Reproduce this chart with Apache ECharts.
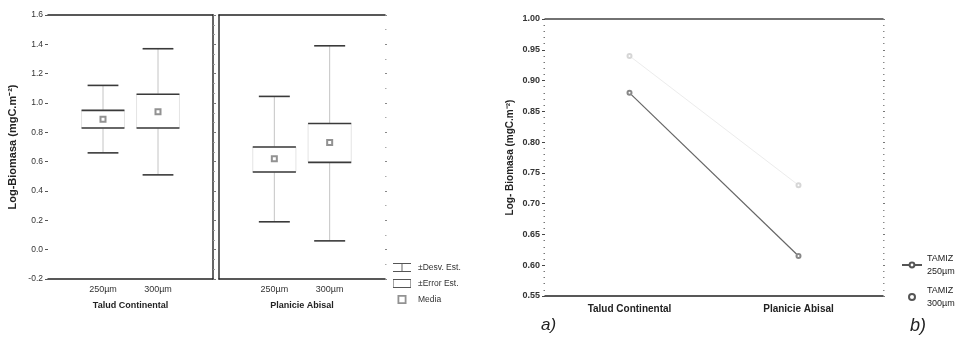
<!DOCTYPE html>
<html>
<head>
<meta charset="utf-8">
<script src="https://cdn.jsdelivr.net/npm/echarts@6/dist/echarts.min.js"></script>
<style>html,body{margin:0;padding:0;background:#fff}#c{width:965px;height:345px}</style>
</head>
<body>
<div id="c"></div>
<script>
// ---- data ----
const sizes = ['250µm', '300µm'];
const sizePos = [1, 2];
const sites = ['Talud Continental', 'Planicie Abisal'];
const yTicksA = ['-0.2','0.0','0.2','0.4','0.6','0.8','1.0','1.2','1.4','1.6'];
// Talud Continental
const taludSdLow  = [0.66, 0.51];
const taludSeLow  = [0.83, 0.83];
const taludMean   = [0.89, 0.94];
const taludSeHigh = [0.95, 1.06];
const taludSdHigh = [1.12, 1.37];
// Planicie Abisal
const planSdLow  = [0.19, 0.06];
const planSeLow  = [0.53, 0.595];
const planMean   = [0.62, 0.73];
const planSeHigh = [0.70, 0.86];
const planSdHigh = [1.045, 1.39];
// panel b (means by sieve)
const tamiz250 = [0.88, 0.615];
const tamiz300 = [0.94, 0.73];

const FONT = 'Liberation Sans, Arial, sans-serif';
const chart = echarts.init(document.getElementById('c'), null, {renderer: 'canvas'});

function whiskerItem(params, api) {
  const x = api.value(0), lo = api.value(1), hi = api.value(2);
  const pLo = api.coord([x, lo]), pHi = api.coord([x, hi]);
  const hw = api.size([0.56, 0])[0] / 2;
  return {type: 'group', children: [
    {type: 'line', shape: {x1: pLo[0], y1: pLo[1], x2: pHi[0], y2: pHi[1]}, style: {stroke: '#c4c4c4', lineWidth: 1}},
    {type: 'line', shape: {x1: pLo[0]-hw, y1: pLo[1], x2: pLo[0]+hw, y2: pLo[1]}, style: {stroke: '#3a3a3a', lineWidth: 1.6}},
    {type: 'line', shape: {x1: pHi[0]-hw, y1: pHi[1], x2: pHi[0]+hw, y2: pHi[1]}, style: {stroke: '#3a3a3a', lineWidth: 1.6}}
  ]};
}
function boxItem(params, api) {
  const x = api.value(0), lo = api.value(1), hi = api.value(2);
  const pLo = api.coord([x, lo]), pHi = api.coord([x, hi]);
  const hw = api.size([0.78, 0])[0] / 2;
  return {type: 'group', children: [
    {type: 'rect', shape: {x: pHi[0]-hw, y: pHi[1], width: 2*hw, height: pLo[1]-pHi[1]}, style: {fill: '#fff', stroke: '#e4e4e4', lineWidth: 1}},
    {type: 'line', shape: {x1: pLo[0]-hw, y1: pLo[1], x2: pLo[0]+hw, y2: pLo[1]}, style: {stroke: '#3a3a3a', lineWidth: 1.6}},
    {type: 'line', shape: {x1: pHi[0]-hw, y1: pHi[1], x2: pHi[0]+hw, y2: pHi[1]}, style: {stroke: '#3a3a3a', lineWidth: 1.6}}
  ]};
}
function zip3(a, b, c) { return a.map((v, i) => [v, b[i], c[i]]); }
function zip2(a, b) { return a.map((v, i) => [v, b[i]]); }

function facetX(gi, name) {
  return [
    {gridIndex: gi, type: 'value', position: 'bottom', min: 0, max: 3, interval: 1,
     axisLine: {show: true, onZero: false, lineStyle: {color: '#222', width: 1.5}}, axisTick: {show: false}, splitLine: {show: false},
     axisLabel: {margin: 6, fontSize: 9, fontFamily: FONT, color: '#333', formatter: v => {const i = sizePos.indexOf(v); return i >= 0 ? sizes[i] : '';}},
     name: name, nameLocation: 'middle', nameGap: 22, nameTextStyle: {fontSize: 9, fontWeight: 'bold', fontFamily: FONT, color: '#222'}},
    {gridIndex: gi, type: 'value', position: 'top', min: 0, max: 3, interval: 1,
     axisLine: {show: true, onZero: false, lineStyle: {color: '#222', width: 1.5}}, axisTick: {show: false}, axisLabel: {show: false}, splitLine: {show: false}}
  ];
}
const yA = {type: 'value', min: -0.2, max: 1.6, interval: 0.2, splitLine: {show: false}};

const option = {
  backgroundColor: '#fff',
  animation: false,
  textStyle: {fontFamily: FONT},
  title: [
    {text: 'a)', left: 536, top: 312, textStyle: {fontSize: 17, fontStyle: 'italic', fontWeight: 'normal', fontFamily: FONT, color: '#222'}},
    {text: 'b)', left: 905, top: 312, textStyle: {fontSize: 18, fontStyle: 'italic', fontWeight: 'normal', fontFamily: FONT, color: '#222'}}
  ],
  grid: [
    {left: 48, top: 15, width: 165, height: 264},
    {left: 219, top: 15, width: 166, height: 264},
    {left: 545, top: 19, width: 338, height: 277}
  ],
  legend: [
    {orient: 'vertical', left: 388, top: 258, itemGap: 7, itemWidth: 22, itemHeight: 9,
     textStyle: {fontSize: 8.5, fontFamily: FONT, color: '#333'},
     data: [
       {name: '±Desv. Est.', icon: 'path://M0,0h20v1.2h-20zM9.5,0h1v10h-1zM0,8.8h20v1.2h-20z', itemStyle: {color: '#555'}},
       {name: '±Error Est.', icon: 'path://M0,0h20v1.2h-20zM0,8.8h20v1.2h-20zM0,0h0.6v10h-0.6zM19.4,0h0.6v10h-0.6z', itemStyle: {color: '#555'}},
       {name: 'Media', icon: 'path://M0,0h6v6h-6zM1.2,1.2v3.6h3.6v-3.6z', itemStyle: {color: '#777'}}
     ]},
    {orient: 'vertical', left: 896, top: 247, itemGap: 6, itemWidth: 20, itemHeight: 6,
     textStyle: {fontSize: 9, fontFamily: FONT, color: '#222', lineHeight: 13},
     data: [
       {name: 'TAMIZ\n250µm', itemStyle: {color: '#555', borderColor: '#555'}, lineStyle: {color: '#555'}},
       {name: 'TAMIZ\n300µm', icon: 'emptyCircle', itemStyle: {color: '#555', borderColor: '#555', borderWidth: 1}}
     ]}
  ],
  xAxis: [
    ...facetX(0, sites[0]),
    ...facetX(1, sites[1]),
    {gridIndex: 2, type: 'category', data: sites, position: 'bottom', boundaryGap: true,
     axisLine: {show: true, onZero: false, lineStyle: {color: '#222', width: 1.5}}, axisTick: {show: false},
     axisLabel: {margin: 8, fontSize: 10, fontWeight: 'bold', fontFamily: FONT, color: '#222'}},
    {gridIndex: 2, type: 'category', data: sites, position: 'top', boundaryGap: true,
     axisLine: {show: true, onZero: false, lineStyle: {color: '#444', width: 1.5}}, axisTick: {show: false}, axisLabel: {show: false}}
  ],
  yAxis: [
    Object.assign({gridIndex: 0, position: 'left', axisLine: {show: false, onZero: false},
     axisTick: {show: true, length: 3, lineStyle: {color: '#555'}},
     axisLabel: {margin: 5, fontSize: 8.5, fontFamily: FONT, color: '#333', formatter: v => yTicksA[Math.round((v + 0.2) / 0.2)] || ''},
     name: 'Log-Biomasa (mgC.m⁻²)', nameLocation: 'middle', nameGap: 30,
     nameTextStyle: {fontSize: 11, fontWeight: 'bold', fontFamily: FONT, color: '#222'}}, yA),
    Object.assign({gridIndex: 0, position: 'right', axisLine: {show: true, onZero: false, lineStyle: {color: '#333', width: 1.5}},
     axisTick: {show: true, length: 3, lineStyle: {color: '#777'}}, minorTick: {show: true, splitNumber: 3, length: 2, lineStyle: {color: '#999'}},
     axisLabel: {show: false}}, yA),
    Object.assign({gridIndex: 1, position: 'left', axisLine: {show: true, onZero: false, lineStyle: {color: '#333', width: 1.5}},
     axisTick: {show: false}, axisLabel: {show: false}}, yA),
    Object.assign({gridIndex: 1, position: 'right', axisLine: {show: false, onZero: false},
     axisTick: {show: true, length: 2, lineStyle: {color: '#888'}}, minorTick: {show: true, splitNumber: 2, length: 1.5, lineStyle: {color: '#aaa'}},
     axisLabel: {show: false}}, yA),
    {gridIndex: 2, type: 'value', position: 'left', min: 0.55, max: 1.0, interval: 0.05, splitLine: {show: false},
     axisLine: {show: false, onZero: false}, axisTick: {show: true, length: 3, lineStyle: {color: '#444'}},
     minorTick: {show: true, splitNumber: 5, length: 1.5, lineStyle: {color: '#777'}},
     axisLabel: {margin: 5, fontSize: 9, fontWeight: 'bold', fontFamily: FONT, color: '#333', formatter: v => v.toFixed(2)},
     name: 'Log- Biomasa (mgC.m⁻²)', nameLocation: 'middle', nameGap: 30,
     nameTextStyle: {fontSize: 10, fontWeight: 'bold', fontFamily: FONT, color: '#222'}},
    {gridIndex: 2, type: 'value', position: 'right', min: 0.55, max: 1.0, interval: 0.05, splitLine: {show: false},
     axisLine: {show: false, onZero: false}, axisTick: {show: true, length: 2, lineStyle: {color: '#777'}},
     minorTick: {show: true, splitNumber: 5, length: 1.5, lineStyle: {color: '#888'}}, axisLabel: {show: false}}
  ],
  series: [
    {name: '±Desv. Est.', type: 'custom', xAxisIndex: 0, yAxisIndex: 0, renderItem: whiskerItem, encode: {x: 0, y: [1, 2]}, data: zip3(sizePos, taludSdLow, taludSdHigh), z: 2},
    {name: '±Error Est.', type: 'custom', xAxisIndex: 0, yAxisIndex: 0, renderItem: boxItem, encode: {x: 0, y: [1, 2]}, data: zip3(sizePos, taludSeLow, taludSeHigh), z: 3},
    {name: 'Media', type: 'scatter', xAxisIndex: 0, yAxisIndex: 0, symbol: 'emptyRect', symbolSize: 5, itemStyle: {color: '#777', borderWidth: 1}, data: zip2(sizePos, taludMean), z: 4},
    {name: '±Desv. Est.', type: 'custom', xAxisIndex: 2, yAxisIndex: 2, renderItem: whiskerItem, encode: {x: 0, y: [1, 2]}, data: zip3(sizePos, planSdLow, planSdHigh), z: 2},
    {name: '±Error Est.', type: 'custom', xAxisIndex: 2, yAxisIndex: 2, renderItem: boxItem, encode: {x: 0, y: [1, 2]}, data: zip3(sizePos, planSeLow, planSeHigh), z: 3},
    {name: 'Media', type: 'scatter', xAxisIndex: 2, yAxisIndex: 2, symbol: 'emptyRect', symbolSize: 5, itemStyle: {color: '#777', borderWidth: 1}, data: zip2(sizePos, planMean), z: 4},
    {name: 'TAMIZ\n250µm', type: 'line', xAxisIndex: 4, yAxisIndex: 4, data: tamiz250, symbol: 'emptyCircle', symbolSize: 4,
     lineStyle: {color: '#666', width: 1.2}, itemStyle: {color: '#888', borderWidth: 1}},
    {name: 'TAMIZ\n300µm', type: 'line', xAxisIndex: 4, yAxisIndex: 4, data: tamiz300, symbol: 'emptyCircle', symbolSize: 4,
     lineStyle: {color: '#ececec', width: 1}, itemStyle: {color: '#d6d6d6', borderWidth: 1}}
  ]
};
chart.setOption(option);
</script>
</body>
</html>
